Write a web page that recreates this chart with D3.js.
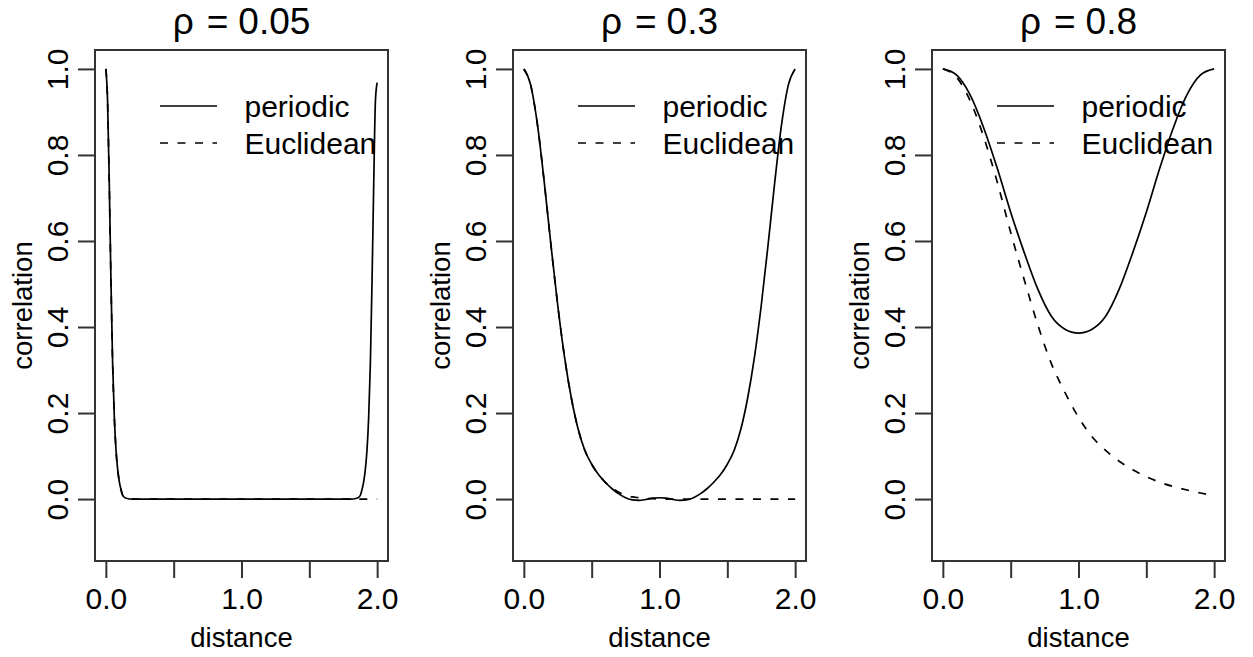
<!DOCTYPE html>
<html>
<head>
<meta charset="utf-8">
<script src="https://cdn.jsdelivr.net/npm/d3@7"></script>
<style>
  html, body { margin: 0; padding: 0; background: #fff; }
  svg { display: block; font-family: "Liberation Sans", Arial, sans-serif; }
</style>
</head>
<body>
<svg id="chart" width="1253" height="657"></svg>
<script>
// ---- data ----
const panelTitles = ["0.05", "0.3", "0.8"];
const legendLabels = ["periodic", "Euclidean"];
const xTicks = [0, 0.5, 1, 1.5, 2];
const xTickLabels = ["0.0", "", "1.0", "", "2.0"];
const yTicks = [0, 0.2, 0.4, 0.6, 0.8, 1.0];
const yTickLabels = ["0.0", "0.2", "0.4", "0.6", "0.8", "1.0"];

// rho = 0.05
const distance05 = [0, 0.0125, 0.025, 0.0375, 0.05, 0.0625, 0.075, 0.0875, 0.1, 0.1125, 0.125, 0.15, 0.2, 0.5, 1.0, 1.5, 1.8, 1.85, 1.875, 1.8875, 1.9, 1.9125, 1.925, 1.9375, 1.95, 1.9625, 1.975, 1.9875, 2.0];
const periodic05 = [1, 0.927, 0.738, 0.51, 0.315, 0.19, 0.113, 0.068, 0.039, 0.021, 0.008, 0.002, 0, 0, 0, 0, 0, 0.002, 0.008, 0.021, 0.039, 0.068, 0.113, 0.19, 0.315, 0.51, 0.738, 0.927, 0.968];
const euclid05   = [1, 0.927, 0.738, 0.51, 0.315, 0.19, 0.113, 0.068, 0.039, 0.021, 0.008, 0.002, 0, 0, 0, 0, 0, 0, 0, 0, 0, 0, 0, 0, 0, 0, 0, 0, 0];

// rho = 0.3
const distance30 = [0, 0.05, 0.1, 0.15, 0.2, 0.25, 0.3, 0.35, 0.4, 0.45, 0.5, 0.55, 0.6, 0.65, 0.7, 0.75, 0.8, 0.85, 0.9, 0.95, 1.0, 1.05, 1.1, 1.15, 1.2, 1.25, 1.3, 1.35, 1.4, 1.45, 1.5, 1.55, 1.6, 1.65, 1.7, 1.75, 1.8, 1.85, 1.9, 1.95, 2.0];
const periodic30 = [1, 0.963, 0.871, 0.738, 0.59, 0.45, 0.33, 0.235, 0.163, 0.113, 0.081, 0.057, 0.039, 0.024, 0.012, 0.003, -0.002, -0.003, -0.001, 0.002, 0.003, 0.002, -0.001, -0.003, -0.002, 0.003, 0.012, 0.024, 0.039, 0.057, 0.081, 0.113, 0.163, 0.235, 0.33, 0.45, 0.59, 0.738, 0.871, 0.963, 1];
const euclid30   = [1, 0.963, 0.871, 0.738, 0.59, 0.45, 0.33, 0.235, 0.163, 0.113, 0.081, 0.057, 0.039, 0.026, 0.016, 0.009, 0.005, 0.003, 0.001, 0.001, 0, 0, 0, 0, 0, 0, 0, 0, 0, 0, 0, 0, 0, 0, 0, 0, 0, 0, 0, 0, 0];

// rho = 0.8
const distance80 = [0, 0.1, 0.2, 0.3, 0.4, 0.5, 0.6, 0.7, 0.8, 0.9, 1.0, 1.1, 1.2, 1.3, 1.4, 1.5, 1.6, 1.7, 1.8, 1.9, 2.0];
const periodic80 = [1, 0.986, 0.94, 0.864, 0.77, 0.667, 0.573, 0.488, 0.425, 0.395, 0.386, 0.395, 0.425, 0.488, 0.573, 0.667, 0.77, 0.864, 0.94, 0.986, 1];
const euclid80   = [1, 0.981, 0.927, 0.843, 0.738, 0.62, 0.51, 0.405, 0.315, 0.248, 0.19, 0.145, 0.113, 0.088, 0.068, 0.052, 0.039, 0.029, 0.021, 0.014, 0.008];

const panels = [
  { title: panelTitles[0], d: distance05, p: periodic05, e: euclid05 },
  { title: panelTitles[1], d: distance30, p: periodic30, e: euclid30 },
  { title: panelTitles[2], d: distance80, p: periodic80, e: euclid80 }
];

// ---- layout ----
const boxLefts = [95, 513, 932];
const boxW = 293, boxTop = 50, boxBottom = 561;
const dashPattern = "8,9.5";
const svg = d3.select("#chart");

panels.forEach((pn, i) => {
  const L = boxLefts[i];
  const x = d3.scaleLinear().domain([-0.08, 2.08]).range([L, L + boxW]);
  const y = d3.scaleLinear().domain([-0.144, 1.044]).range([boxBottom, boxTop]);
  const g = svg.append("g");

  // box
  g.append("rect")
    .attr("x", L).attr("y", boxTop)
    .attr("width", boxW).attr("height", boxBottom - boxTop)
    .attr("fill", "none").attr("stroke", "#333").attr("stroke-width", 2);

  // x axis
  const xa = g.append("g").attr("transform", `translate(0,${boxBottom})`)
    .call(d3.axisBottom(x).tickValues(xTicks).tickSize(17).tickPadding(10)
      .tickFormat((d, k) => xTickLabels[k]));
  xa.select(".domain").remove();
  xa.selectAll("line").attr("stroke", "#333").attr("stroke-width", 2);
  xa.selectAll("text").attr("font-size", 30).attr("fill", "#000")
    .attr("font-family", "Liberation Sans, Arial, sans-serif");

  // y axis
  const ya = g.append("g").attr("transform", `translate(${L},0)`)
    .call(d3.axisLeft(y).tickValues(yTicks).tickSize(17)
      .tickFormat((d, k) => yTickLabels[k]));
  ya.select(".domain").remove();
  ya.selectAll("line").attr("stroke", "#333").attr("stroke-width", 2);
  ya.selectAll("text")
    .attr("x", null).attr("dy", null)
    .attr("text-anchor", "middle")
    .attr("transform", "translate(-26.7,0) rotate(-90)")
    .attr("font-size", 30).attr("fill", "#000")
    .attr("font-family", "Liberation Sans, Arial, sans-serif");

  // axis labels
  g.append("text")
    .attr("x", L + boxW / 2).attr("y", 647)
    .attr("text-anchor", "middle").attr("font-size", 27.5)
    .text("distance");
  g.append("text")
    .attr("transform", `translate(${L - 63.3},${(boxTop + boxBottom) / 2}) rotate(-90)`)
    .attr("text-anchor", "middle").attr("font-size", 27.5)
    .text("correlation");

  // title
  const t = g.append("text")
    .attr("x", L + boxW / 2).attr("y", 34)
    .attr("text-anchor", "middle").attr("font-size", 37);
  t.append("tspan").text("ρ");
  t.append("tspan").attr("dx", 13).text("=");
  t.append("tspan").attr("dx", 10).text(pn.title);

  // curves
  const idx = d3.range(pn.d.length);
  const lineP = d3.line().x(k => x(pn.d[k])).y(k => y(pn.p[k])).curve(d3.curveMonotoneX);
  const lineE = d3.line().x(k => x(pn.d[k])).y(k => y(pn.e[k])).curve(d3.curveMonotoneX);

  g.append("path").attr("d", lineP(idx))
    .attr("fill", "none").attr("stroke", "#000").attr("stroke-width", 1.7);
  g.append("path").attr("d", lineE(idx))
    .attr("fill", "none").attr("stroke", "#000").attr("stroke-width", 1.7)
    .attr("stroke-dasharray", dashPattern);

  // legend
  const lg = g.append("g");
  const rows = [{ y: 106, dash: null }, { y: 143, dash: dashPattern }];
  rows.forEach((r, k) => {
    lg.append("line")
      .attr("x1", L + 65).attr("x2", L + 122)
      .attr("y1", r.y).attr("y2", r.y)
      .attr("stroke", "#000").attr("stroke-width", 1.7)
      .attr("stroke-dasharray", r.dash);
    lg.append("text")
      .attr("x", L + 149.5).attr("y", r.y + 11)
      .attr("font-size", 30).text(legendLabels[k]);
  });
});
</script>
</body>
</html>
